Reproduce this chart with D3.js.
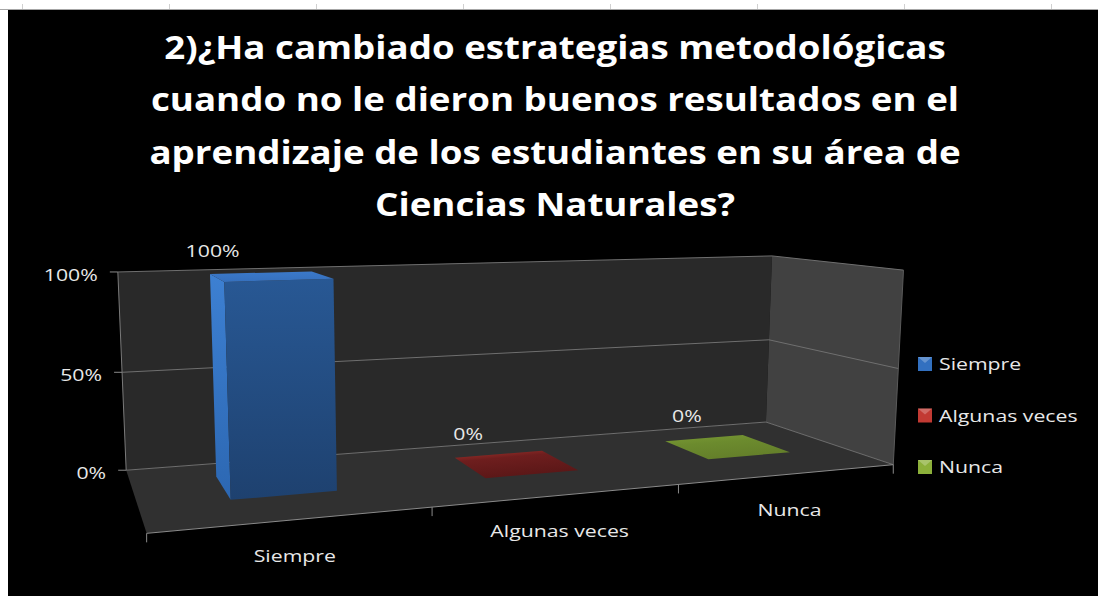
<!DOCTYPE html>
<html>
<head>
<meta charset="utf-8">
<script src="https://cdn.jsdelivr.net/npm/d3@7"></script>
<style>
  body { margin: 0; background: #fff; overflow: hidden; }
</style>
</head>
<body>
<script>
// data
const categories = ["Siempre", "Algunas veces", "Nunca"];
const values = [1, 0, 0];
const valueTicks = [0, 0.5, 1];
const titleLines = [
  "2)¿Ha cambiado estrategias metodológicas",
  "cuando no le dieron buenos resultados en el",
  "aprendizaje de los estudiantes en su área de",
  "Ciencias Naturales?"
];

const w = 1098, h = 596;
const fmt = d3.format(".0%");
const svg = d3.select("body").append("svg").attr("width", w).attr("height", h);

// text drawn a bit wider than the font, like the screenshot
function label(g, x, y, str, anchor = "start", size = 17, sx = 1.25, weight = "normal", fill = "#e8e8e8") {
  return g.append("text")
    .attr("transform", `translate(${x},${y}) scale(${sx},1)`)
    .attr("text-anchor", anchor).attr("fill", fill)
    .attr("font-family", "'Open Sans', sans-serif")
    .attr("font-weight", weight).attr("font-size", size)
    .text(str);
}

// spreadsheet strip behind the chart
svg.append("rect").attr("x", 8).attr("y", 10).attr("width", w - 8).attr("height", h - 10).attr("fill", "#000");
svg.append("line").attr("x1", 0).attr("x2", w).attr("y1", 9.5).attr("y2", 9.5).attr("stroke", "#a6a6a6");
d3.range(22, w, 147).forEach(x => {
  svg.append("line").attr("x1", x + 0.5).attr("x2", x + 0.5).attr("y1", 4).attr("y2", 9)
    .attr("stroke", "#d0d0d0");
});

// title
titleLines.forEach((t, i) => label(svg, 555, 59 + i * 52.3, t, "middle", 32, 1.147, "bold", "#fff"));

// world scales: x along categories, y value, z depth (0 front, 1 back)
const x = d3.scaleBand().domain(categories).range([0, 3]);
const y = d3.scaleLinear().domain([0, 1]).range([0, 1]);
const z = d3.scaleLinear().domain([0, 1]).range([0.36, 0.76]);
// data labels drift right across the categories, as excel places them
const labelShift = d3.scaleLinear().domain([0, categories.length - 1]).range([0.34, 0.44]);

// fit a perspective camera to the box corners seen on screen
function fitCamera(pairs) {
  const N = 11;
  const M = Array.from({ length: N }, () => new Array(N + 1).fill(0));
  pairs.forEach(([[X, Y, Z], [sx, sy]]) => {
    const u = (sx - 500) / 400, v = (sy - 400) / 400;
    [[[X, Y, Z, 1, 0, 0, 0, 0, -u * X, -u * Y, -u * Z], u],
     [[0, 0, 0, 0, X, Y, Z, 1, -v * X, -v * Y, -v * Z], v]].forEach(([a, b]) => {
      for (let i = 0; i < N; i++) {
        for (let j = 0; j < N; j++) M[i][j] += a[i] * a[j];
        M[i][N] += a[i] * b;
      }
    });
  });
  for (let c = 0; c < N; c++) {
    let piv = c;
    for (let r = c + 1; r < N; r++) if (Math.abs(M[r][c]) > Math.abs(M[piv][c])) piv = r;
    [M[c], M[piv]] = [M[piv], M[c]];
    for (let r = 0; r < N; r++) {
      if (r === c) continue;
      const f = M[r][c] / M[c][c];
      for (let k = c; k <= N; k++) M[r][k] -= f * M[c][k];
    }
  }
  const p = M.map((row, i) => row[N] / row[i]);
  return ([X, Y, Z]) => {
    const q = p[8] * X + p[9] * Y + p[10] * Z + 1;
    return [500 + 400 * (p[0] * X + p[1] * Y + p[2] * Z + p[3]) / q,
            400 + 400 * (p[4] * X + p[5] * Y + p[6] * Z + p[7]) / q];
  };
}

const proj = fitCamera([
  [[0, 0, 1], [128, 469]], [[3, 0, 1], [767, 423]],
  [[0, 1, 1], [120, 272]], [[3, 1, 1], [772, 256]],
  [[0, 0.5, 1], [118, 372]], [[3, 0.5, 1], [768, 340]],
  [[0, 0, 0], [147, 535]], [[3, 0, 0], [893, 463]],
  [[3, 1, 0], [904, 270]], [[1, 0, 0], [432, 507]], [[2, 0, 0], [678, 485]]
]);

const line = d3.line();
const poly = pts => line(pts.map(proj)) + "Z";

const defs = svg.append("defs");
function grad(id, stops, x2 = 0, y2 = 1) {
  const g = defs.append("linearGradient").attr("id", id)
    .attr("x1", 0).attr("y1", 0).attr("x2", x2).attr("y2", y2);
  stops.forEach(([o, c]) => g.append("stop").attr("offset", o).attr("stop-color", c));
}
grad("bFront", [[0, "#285894"], [1, "#1e416f"]]);
grad("bSide", [[0, "#3d80d2"], [1, "#2c67b2"]]);
grad("bTop", [[0, "#3b79c9"], [1, "#3670bd"]]);
grad("rTop", [[0, "#a8332b"], [0.35, "#6e1e1e"], [1, "#5a1717"]], 0.4, 1);
grad("gTop", [[0, "#7a9a34"], [0.4, "#6c8b2e"], [1, "#647f2a"]], 0.4, 1);
const series = [
  { front: "url(#bFront)", side: "url(#bSide)", top: "url(#bTop)", key: "#3270c0" },
  { front: "#5a1717", side: "#7a1f1f", top: "url(#rTop)", key: "#c23a33" },
  { front: "#5c7826", side: "#6c8b2e", top: "url(#gTop)", key: "#8cb03a" }
];

const X0 = x.range()[0], X1 = x.range()[1];
const plot = svg.append("g");

// walls
plot.append("path").attr("d", poly([[X0, 0, 1], [X1, 0, 1], [X1, 1, 1], [X0, 1, 1]])).attr("fill", "#292929");
plot.append("path").attr("d", poly([[X1, 0, 1], [X1, 0, 0], [X1, 1, 0], [X1, 1, 1]])).attr("fill", "#414141");
plot.append("path").attr("d", poly([[X0, 0, 1], [X1, 0, 1], [X1, 0, 0], [X0, 0, 0]])).attr("fill", "#303030");

// gridlines on back and side wall
valueTicks.forEach(t => {
  plot.append("path")
    .attr("d", line([[X0, y(t), 1], [X1, y(t), 1], [X1, y(t), 0]].map(proj)))
    .attr("fill", "none").attr("stroke", "#6f6f6f").attr("stroke-width", 1);
});
plot.append("path").attr("d", line([[X1, 1, 0], [X1, 0, 0]].map(proj)))
  .attr("fill", "none").attr("stroke", "#5a5a5a");

// value axis
plot.append("path").attr("d", line([[X0, 0, 1], [X0, 1, 1]].map(proj)))
  .attr("fill", "none").attr("stroke", "#7a7a7a");
valueTicks.forEach(t => {
  const [px, py] = proj([X0, y(t), 1]);
  plot.append("line").attr("x1", px - 8).attr("x2", px).attr("y1", py).attr("y2", py)
    .attr("stroke", "#8a8a8a");
  label(plot, px - 20, py + 9, fmt(t), "end");
});

// category axis
plot.append("path").attr("d", line([[X0, 0, 0], [X1, 0, 0]].map(proj)))
  .attr("fill", "none").attr("stroke", "#8a8a8a");
d3.range(categories.length + 1).forEach(i => {
  const [px, py] = proj([X0 + i * x.step(), 0, 0]);
  plot.append("line").attr("x1", px).attr("x2", px).attr("y1", py).attr("y2", py + 9)
    .attr("stroke", "#8a8a8a");
});
categories.forEach(c => {
  const [px, py] = proj([x(c) + x.bandwidth() / 2, 0, 0]);
  label(plot, px, py + 42, c, "middle");
});

// bars
const bars = categories.map((c, i) => ({
  c, i, v: values[i], s: series[i],
  x0: x(c) + x.bandwidth() * 0.33, x1: x(c) + x.bandwidth() * 0.73,
  zf: z(0), zb: z(1)
}));
const bg = plot.append("g");
bars.forEach(b => {
  const hv = y(b.v);
  if (hv > 0) {
    bg.append("path").attr("d", poly([[b.x0, 0, b.zb], [b.x0, 0, b.zf], [b.x0, hv, b.zf], [b.x0, hv, b.zb]]))
      .attr("fill", b.s.side);
    bg.append("path").attr("d", poly([[b.x0, 0, b.zf], [b.x1, 0, b.zf], [b.x1, hv, b.zf], [b.x0, hv, b.zf]]))
      .attr("fill", b.s.front);
  }
  bg.append("path").attr("d", poly([[b.x0, hv, b.zb], [b.x1, hv, b.zb], [b.x1, hv, b.zf], [b.x0, hv, b.zf]]))
    .attr("fill", b.s.top);
  const [lx, ly] = proj([x(b.c) + x.bandwidth() * labelShift(b.i), hv, b.zb]);
  label(bg, lx, ly - 17, fmt(b.v), "middle");
});

// legend
const lg = svg.append("g").attr("transform", "translate(918,357)");
categories.forEach((c, i) => {
  const g = lg.append("g").attr("transform", `translate(0,${i * 51.5})`);
  g.append("rect").attr("width", 14).attr("height", 14).attr("fill", series[i].key);
  g.append("path").attr("d", "M0,0H14L7,6Z").attr("fill", "#fff").attr("opacity", 0.25);
  label(g, 21, 13, c);
});
</script>
</body>
</html>
